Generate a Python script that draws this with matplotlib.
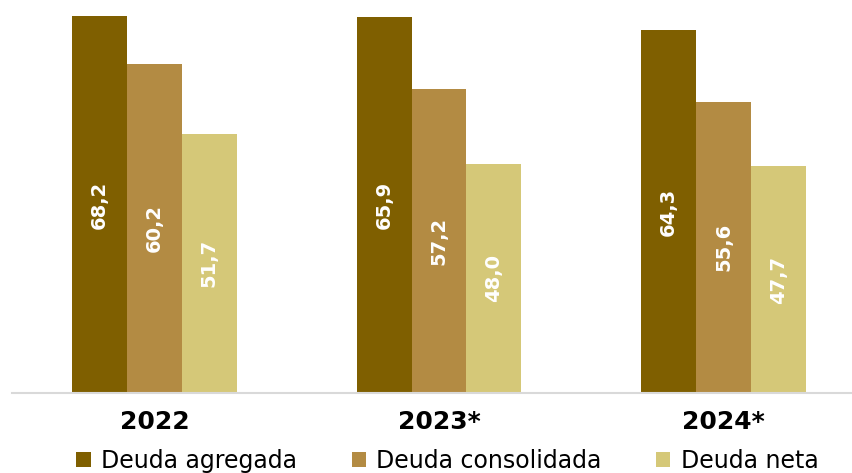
import numpy as np
from matplotlib import pyplot as plt

years = ['2022', '2023*', '2024*']
series_names = ['Deuda agregada', 'Deuda consolidada', 'Deuda neta']
deuda_agregada = [68.2, 65.9, 64.3]
deuda_consolidada = [60.2, 57.2, 55.6]
deuda_neta = [51.7, 48.0, 47.7]
colors = ['#7F5F00', '#B38B43', '#D5C878']

y_min, y_max = 20, 66

fig = plt.figure(figsize=(8.53, 4.73), dpi=100)
ax = fig.add_axes([12 / 853, 80 / 473, 854 / 853, 376.5 / 473])

x = np.arange(len(years))
width = 0.193
all_series = [deuda_agregada, deuda_consolidada, deuda_neta]
for i, (values, name, color) in enumerate(zip(all_series, series_names, colors)):
    pos = x + (i - 1) * width
    ax.bar(pos, [v - y_min for v in values], width, bottom=y_min, color=color, label=name)
    for px, v in zip(pos, values):
        mid = (y_min + min(v, y_max)) / 2
        ax.text(px, mid, '{:.1f}'.format(v).replace('.', ','), rotation=90,
                ha='center', va='center', color='white', fontsize=14, fontweight='bold')

ax.set_xlim(-0.5, 2.5)
ax.set_ylim(y_min, y_max)
ax.set_xticks(x)
ax.set_xticklabels(years, fontsize=18, fontweight='bold')
ax.tick_params(axis='x', length=0, pad=12)
ax.set_yticks([])
for side in ['top', 'right', 'left']:
    ax.spines[side].set_visible(False)
ax.spines['bottom'].set_color('#D9D9D9')
ax.spines['bottom'].set_linewidth(1.5)

fig.legend(loc='lower center', bbox_to_anchor=(0.5246, -0.045), ncol=3, frameon=False,
           fontsize=17, handlelength=0.6, handleheight=0.6, handletextpad=0.45,
           columnspacing=2.3)

plt.savefig('out.png', dpi=100)
